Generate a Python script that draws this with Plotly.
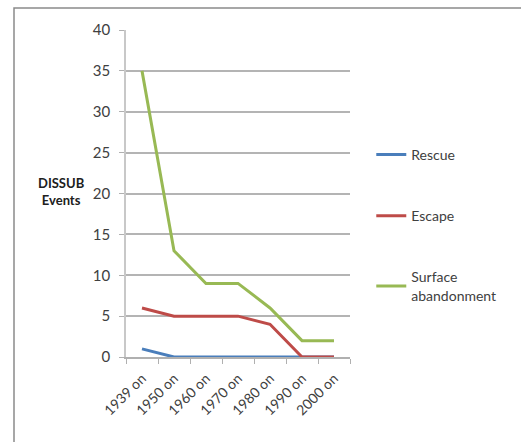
import plotly.graph_objects as go

periods = ["1939 on", "1950 on", "1960 on", "1970 on", "1980 on", "1990 on", "2000 on"]
rescue = [1, 0, 0, 0, 0, 0, 0]
escape = [6, 5, 5, 5, 4, 0, 0]
surface = [35, 13, 9, 9, 6, 2, 2]

series = [
    ("Rescue", rescue, "#4A7EBB"),
    ("Escape", escape, "#BE4B48"),
    ("Surface<br>abandonment", surface, "#98B954"),
]

fig = go.Figure()
for i, (name, vals, color) in enumerate(series):
    fig.add_trace(go.Scatter(
        x=periods, y=vals, name=name, mode="lines",
        line=dict(color=color, width=3),
        legendgroup=f"g{i}",
    ))

font_fam = "Lato, 'Open Sans', sans-serif"
fig.update_layout(
    width=521, height=442,
    margin=dict(l=126, r=171, t=30, b=85),
    paper_bgcolor="white", plot_bgcolor="white",
    font=dict(family=font_fam, size=14, color="#404040"),
    showlegend=True,
    legend=dict(
        x=1.095, y=0.667, xanchor="left", yanchor="top",
        tracegroupgap=40,
        font=dict(size=14, color="#404040"),
        itemwidth=30,
        bgcolor="rgba(0,0,0,0)",
    ),
    xaxis=dict(
        type="category",
        range=[-0.5, 6.5],
        tickson="boundaries",
        ticks="outside", ticklen=5, tickcolor="#b0b0b0",
        showline=True, linecolor="#b0b0b0", linewidth=1.5,
        showgrid=False, tickangle=-45,
        ticklabelstandoff=6,
        tickfont=dict(size=14, color="#404040"),
    ),
    yaxis=dict(
        range=[0, 40], dtick=5,
        ticks="outside", ticklen=5, tickcolor="#b0b0b0",
        showline=True, linecolor="#c8c8c8", linewidth=1.5,
        showgrid=True, gridcolor="#b4b4b4", gridwidth=1.5,
        zeroline=False,
        ticklabelstandoff=6,
        tickfont=dict(size=15, color="#404040"),
    ),
    annotations=[dict(
        text="<b>DISSUB<br>Events</b>", xref="paper", yref="paper",
        x=-0.29, y=0.505, xanchor="center", yanchor="middle",
        showarrow=False, font=dict(size=13, color="#202020"),
    )],
    shapes=[dict(
        type="rect", xref="paper", yref="paper",
        x0=-0.5, x1=1.85, y0=-0.3, y1=1.067,
        line=dict(color="#8a8a8a", width=1.5), layer="below",
    )],
)

fig.write_html("out.html")
